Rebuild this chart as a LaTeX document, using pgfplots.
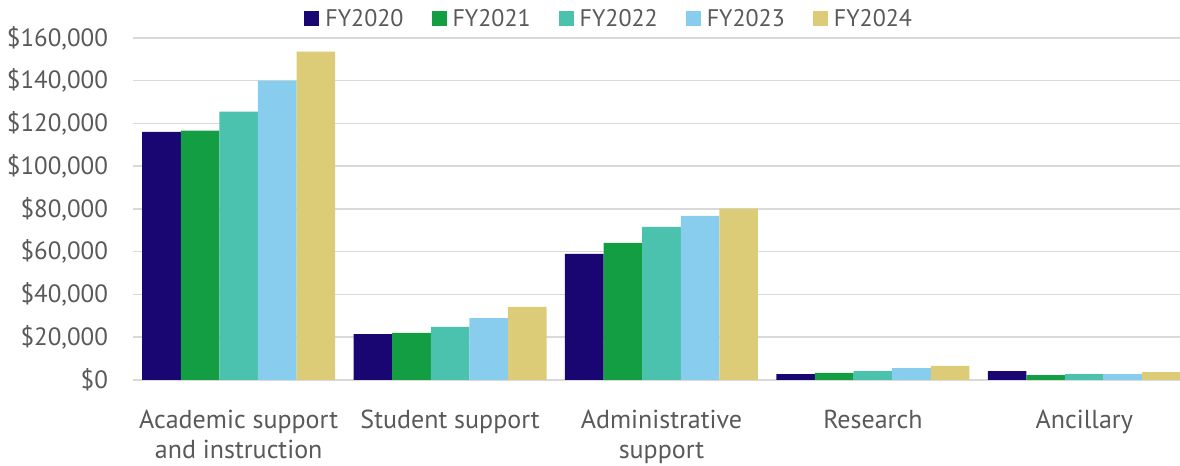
\documentclass[border=0pt]{standalone}
\usepackage{pgfplots}
\pgfplotsset{compat=1.18}
\usepackage{fontspec}
\setmainfont{PT Sans}
\definecolor{c20}{HTML}{1A0672}
\definecolor{c21}{HTML}{139E43}
\definecolor{c22}{HTML}{4BC2AE}
\definecolor{c23}{HTML}{88CCEE}
\definecolor{c24}{HTML}{DDCC77}
\definecolor{txt}{HTML}{595959}
\definecolor{grd}{HTML}{D9D9D9}
\begin{document}
\begin{tikzpicture}
\begin{axis}[
  scale only axis,
  width=528.5pt, height=171pt,
  ybar=0pt, bar width=19.3pt,
  xmin=-0.5, xmax=4.5,
  ymin=0, ymax=160000,
  ytick={0,20000,40000,60000,80000,100000,120000,140000,160000},
  scaled y ticks=false,
  yticklabels={\$0,{\$20,000},{\$40,000},{\$60,000},{\$80,000},{\$100,000},{\$120,000},{\$140,000},{\$160,000}},
  xtick={0,1,2,3,4},
  xticklabels={{Academic support\\and instruction},{Student support},{Administrative\\support},{Research},{Ancillary}},
  xticklabel style={align=center, font=\fontsize{13pt}{15pt}\selectfont, text=txt, yshift=-7pt},
  yticklabel style={font=\fontsize{12.5pt}{15pt}\selectfont, text=txt, xshift=-9pt},
  tick style={draw=none},
  ymajorgrids, grid style={grd, line width=0.75pt},
  axis line style={draw=none},
  legend style={at={(rel axis cs:0.1618,1)}, anchor=west, yshift=9.5pt, draw=none, fill=none, inner sep=0pt,
    legend columns=5, font=\fontsize{12pt}{15pt}\selectfont, text=txt,
    /tikz/every odd column/.append style={column sep=1pt},
    /tikz/every even column/.append style={column sep=12pt}},
  legend image code/.code={\fill[#1] (0pt,-3.75pt) rectangle (7.5pt,3.75pt);},
]
\draw[grd, line width=0.75pt] (axis cs:-0.5,0) -- (axis cs:4.5,0);
\addplot[fill=c20, draw=none] coordinates {(0,116100) (1,21500) (2,59000) (3,2800) (4,4200)};
\addplot[fill=c21, draw=none] coordinates {(0,116700) (1,22000) (2,64200) (3,3300) (4,2300)};
\addplot[fill=c22, draw=none] coordinates {(0,125500) (1,24800) (2,71600) (3,4200) (4,2800)};
\addplot[fill=c23, draw=none] coordinates {(0,140000) (1,29000) (2,76800) (3,5600) (4,2800)};
\addplot[fill=c24, draw=none] coordinates {(0,153600) (1,34200) (2,80200) (3,6600) (4,3700)};
\legend{FY2020,FY2021,FY2022,FY2023,FY2024}
\end{axis}
\pgfresetboundingbox
\path[use as bounding box] (-66.5pt,-43pt) rectangle (523.5pt,190pt);
\end{tikzpicture}
\end{document}
